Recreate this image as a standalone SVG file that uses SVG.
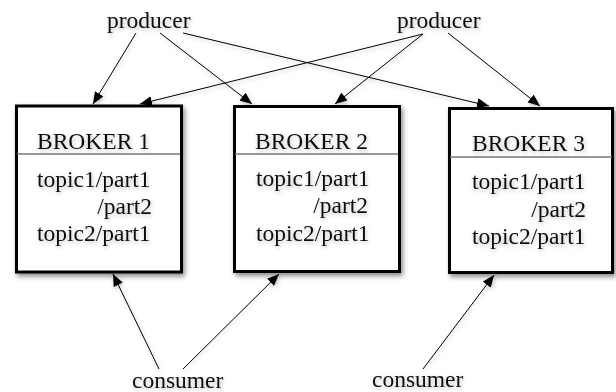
<svg xmlns="http://www.w3.org/2000/svg" width="616" height="392" viewBox="0 0 616 392">
<style>
text{font-family:"Liberation Serif","Times New Roman",serif;font-size:23.5px;fill:#111}
.box{fill:#fff;stroke:#000;stroke-width:3}
.div{stroke:#777;stroke-width:1.5}
.edge{stroke:#000;stroke-width:1;fill:none;marker-end:url(#ah)}
.end{text-anchor:end}
</style>
<defs>
<filter id="sh" x="-20%" y="-20%" width="150%" height="150%">
<feDropShadow dx="2" dy="3" stdDeviation="2.5" flood-color="#000" flood-opacity="0.45"/>
</filter>
<filter id="tsh" x="-20%" y="-30%" width="150%" height="180%">
<feDropShadow dx="1" dy="2" stdDeviation="2" flood-color="#000" flood-opacity="0.25"/>
</filter>
<marker id="ah" viewBox="0 0 12 10" refX="12" refY="5" markerWidth="12" markerHeight="10" markerUnits="userSpaceOnUse" orient="auto">
<path d="M0,0 L12,5 L0,10 Z" fill="#000"/>
</marker>
</defs>
<g id="connectors" filter="url(#tsh)">
<line class="edge" x1="136" y1="33" x2="93" y2="104"/>
<line class="edge" x1="160" y1="33" x2="252" y2="104"/>
<line class="edge" x1="183" y1="33" x2="489" y2="106"/>
<line class="edge" x1="423" y1="34" x2="140" y2="104"/>
<line class="edge" x1="423" y1="34" x2="335" y2="104"/>
<line class="edge" x1="448" y1="33" x2="540" y2="106"/>
<line class="edge" x1="159" y1="369" x2="113" y2="274"/>
<line class="edge" x1="183" y1="369" x2="279" y2="274"/>
<line class="edge" x1="423" y1="369" x2="494" y2="275"/>
</g>
<g id="producer1" filter="url(#tsh)"><text x="107" y="28">producer</text></g>
<g id="producer2" filter="url(#tsh)"><text x="397" y="28">producer</text></g>
<g id="broker1">
<rect class="box" x="16.5" y="106" width="165" height="166" filter="url(#sh)"/>
<line class="div" x1="17" y1="154" x2="180" y2="154"/>
<g filter="url(#tsh)">
<text x="37" y="149">BROKER 1</text>
<text x="37" y="187">topic1/part1</text>
<text class="end" x="152" y="214">/part2</text>
<text x="37" y="241">topic2/part1</text>
</g>
</g>
<g id="broker2">
<rect class="box" x="234.5" y="106.5" width="165" height="165" filter="url(#sh)"/>
<line class="div" x1="235" y1="154" x2="398" y2="154"/>
<g filter="url(#tsh)">
<text x="255" y="149">BROKER 2</text>
<text x="256" y="186">topic1/part1</text>
<text class="end" x="368" y="213">/part2</text>
<text x="256" y="241">topic2/part1</text>
</g>
</g>
<g id="broker3">
<rect class="box" x="449.5" y="108.5" width="163" height="164" filter="url(#sh)"/>
<line class="div" x1="450" y1="157" x2="612" y2="157"/>
<g filter="url(#tsh)">
<text x="472" y="151">BROKER 3</text>
<text x="472" y="189">topic1/part1</text>
<text class="end" x="586" y="217">/part2</text>
<text x="472" y="244">topic2/part1</text>
</g>
</g>
<g id="consumer1" filter="url(#tsh)"><text x="132" y="388">consumer</text></g>
<g id="consumer2" filter="url(#tsh)"><text x="372" y="387">consumer</text></g>
</svg>
